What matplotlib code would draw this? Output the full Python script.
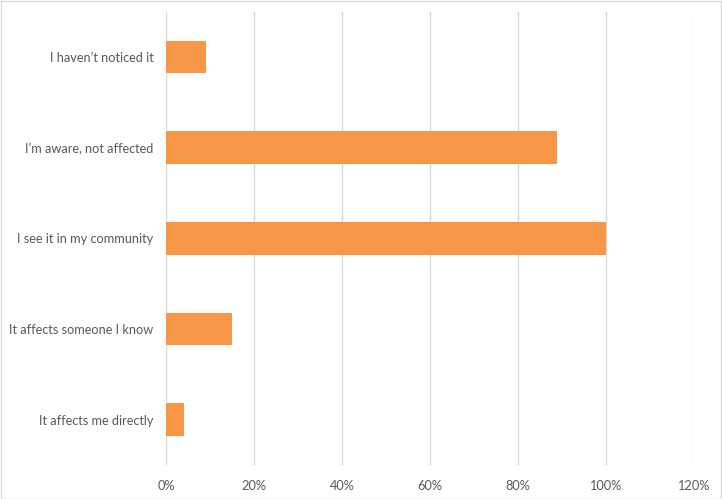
import matplotlib
matplotlib.use("Agg")
import matplotlib.pyplot as plt
from matplotlib.ticker import PercentFormatter, MultipleLocator
from matplotlib.patches import Rectangle

categories = [
    "I haven\u2019t noticed it",
    "I\u2019m aware, not affected",
    "I see it in my community",
    "It affects someone I know",
    "It affects me directly",
]
values = [9, 89, 100, 15, 4]

BAR = "#F79646"
GRID = "#D9D9D9"
TEXT = "#595959"

plt.rcParams["font.family"] = ["Lato", "DejaVu Sans"]

fig = plt.figure(figsize=(7.22, 4.99), dpi=100)
ax = fig.add_axes([0.2306, 0.0681, 0.7297, 0.9085])

y = list(range(len(categories)))
ax.barh(y, values, height=0.36, color=BAR, zorder=3)
ax.set_ylim(len(categories) - 0.5, -0.5)
ax.set_yticks(y)
ax.set_yticklabels(categories)

ax.set_xlim(0, 120)
ax.xaxis.set_major_locator(MultipleLocator(20))
ax.xaxis.set_major_formatter(PercentFormatter(decimals=0))
ax.grid(axis="x", color=GRID, linewidth=1, zorder=0)

for s in ["top", "right", "bottom", "left"]:
    ax.spines[s].set_visible(False)
ax.tick_params(axis="both", length=0, colors=TEXT, labelsize=9.2)
ax.tick_params(axis="y", pad=9.5)
ax.tick_params(axis="x", pad=11)

fig.patches.append(Rectangle((0.001, 0.001), 0.998, 0.997, transform=fig.transFigure,
                             fill=False, edgecolor=GRID, linewidth=1))

fig.savefig("out.png", dpi=100)
